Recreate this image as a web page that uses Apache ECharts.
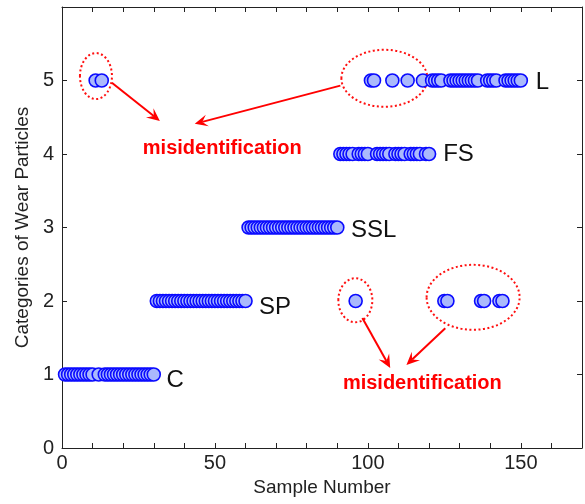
<!DOCTYPE html>
<html>
<head>
<meta charset="utf-8">
<script src="https://cdn.jsdelivr.net/npm/echarts@6/dist/echarts.min.js"></script>
<style>
  html, body { margin: 0; padding: 0; background: #fff; }
  #chart { width: 585px; height: 504px; }
</style>
</head>
<body>
<div id="chart"></div>
<script>
// predicted category for sample 1..150 (1=C, 2=SP, 3=SSL, 4=FS, 5=L)
const predicted = [
  1, 1, 1, 1, 1, 1, 1, 1, 1, 1, 5, 1, 5, 1, 1, 1, 1, 1, 1, 1, 1, 1, 1, 1, 1, 1, 1, 1, 1, 1,
  2, 2, 2, 2, 2, 2, 2, 2, 2, 2, 2, 2, 2, 2, 2, 2, 2, 2, 2, 2, 2, 2, 2, 2, 2, 2, 2, 2, 2, 2,
  3, 3, 3, 3, 3, 3, 3, 3, 3, 3, 3, 3, 3, 3, 3, 3, 3, 3, 3, 3, 3, 3, 3, 3, 3, 3, 3, 3, 3, 3,
  4, 4, 4, 4, 4, 2, 4, 4, 4, 4, 5, 5, 4, 4, 4, 4, 4, 5, 4, 4, 4, 4, 5, 4, 4, 4, 4, 5, 4, 4,
  5, 5, 5, 5, 2, 2, 5, 5, 5, 5, 5, 5, 5, 5, 5, 5, 2, 2, 5, 5, 5, 5, 2, 2, 5, 5, 5, 5, 5, 5
];

const xTickLabels = [0, 50, 100, 150];
const yTickLabels = [0, 1, 2, 3, 4, 5];

// class names, placed at [x, y] in data space
const classNames = ['C', 'SP', 'SSL', 'FS', 'L'];
const classLabelPos = [[34.2, 0.92], [64.4, 1.92], [94.5, 2.96], [124.6, 3.99], [154.9, 4.98]];

// misidentification marks (data space)
const ellipseCenters = [[11.1, 5.06], [105.4, 5.03], [95.9, 2.01], [134.4, 2.05]];
const ellipseRadii = [[16, 23], [43, 28.5], [17, 22], [46.5, 32.5]];
const arrowLines = [
  [[16.3, 4.97], [32.0, 4.45]],
  [[91.0, 4.93], [43.4, 4.41]],
  [[98.2, 1.77], [107.3, 1.09]],
  [[125.3, 1.63], [112.6, 1.13]]
];
const noteText = 'misidentification';
const notePos = [[52.4, 4.08], [117.8, 0.88]];

const FONT = '"Liberation Sans", Arial, sans-serif';

const points = predicted.map((c, i) => [i + 1, c]);

const chart = echarts.init(document.getElementById('chart'));

const axisCommon = {
  type: 'value',
  axisLine: { show: true, onZero: false, lineStyle: { color: '#222', width: 1 } },
  axisTick: { show: true, inside: true, length: 5, lineStyle: { color: '#222' } },
  splitLine: { show: false }
};

chart.setOption({
  backgroundColor: '#fff',
  animation: false,
  grid: { left: 62, right: 2, top: 7, bottom: 56 },
  xAxis: [
    Object.assign({}, axisCommon, {
      position: 'bottom', min: 0, max: 170, interval: 10,
      name: 'Sample Number', nameLocation: 'middle', nameGap: 30,
      nameTextStyle: { fontFamily: FONT, fontSize: 19, color: '#222' },
      axisLabel: {
        margin: 5, fontFamily: FONT, fontSize: 20, color: '#222',
        formatter: v => xTickLabels.includes(v) ? String(v) : ''
      }
    }),
    Object.assign({}, axisCommon, {
      position: 'top', min: 0, max: 170, interval: 10,
      axisLabel: { show: false }
    })
  ],
  yAxis: [
    Object.assign({}, axisCommon, {
      position: 'left', min: 0, max: 6, interval: 1,
      name: 'Categories of Wear Particles', nameLocation: 'middle', nameGap: 29,
      nameTextStyle: { fontFamily: FONT, fontSize: 19, color: '#222' },
      axisLabel: {
        margin: 8, fontFamily: FONT, fontSize: 20, color: '#222',
        formatter: v => yTickLabels.includes(v) ? String(v) : ''
      }
    }),
    Object.assign({}, axisCommon, {
      position: 'right', min: 0, max: 6, interval: 1,
      axisLabel: { show: false }
    })
  ],
  series: [{
    type: 'scatter',
    data: points,
    symbol: 'circle',
    symbolSize: 13,
    itemStyle: { color: '#aab9fc', borderColor: '#0a0aff', borderWidth: 1.6, opacity: 1 }
  }]
});

// annotations, placed through the grid's own scales
function px(p) {
  return chart.convertToPixel({ xAxisIndex: 0, yAxisIndex: 0 }, p);
}

const graphics = [];

classNames.forEach((name, i) => {
  const p = px(classLabelPos[i]);
  graphics.push({
    type: 'text', x: p[0], y: p[1],
    style: { text: name, fontFamily: FONT, fontSize: 24, fill: '#111', align: 'left', verticalAlign: 'middle' }
  });
});

ellipseCenters.forEach((c, i) => {
  const p = px(c);
  graphics.push({
    type: 'ellipse',
    shape: { cx: p[0], cy: p[1], rx: ellipseRadii[i][0], ry: ellipseRadii[i][1] },
    style: { fill: 'none', stroke: '#ff1010', lineWidth: 2, lineDash: [2, 2.5] }
  });
});

arrowLines.forEach(seg => {
  const a = px(seg[0]);
  const b = px(seg[1]);
  const dx = b[0] - a[0], dy = b[1] - a[1];
  const len = Math.sqrt(dx * dx + dy * dy);
  const ux = dx / len, uy = dy / len;
  const nx = -uy, ny = ux;
  const L = 13, W = 6;
  const back = [b[0] - ux * L, b[1] - uy * L];
  const notch = [b[0] - ux * L * 0.6, b[1] - uy * L * 0.6];
  graphics.push({
    type: 'line',
    shape: { x1: a[0], y1: a[1], x2: notch[0], y2: notch[1] },
    style: { stroke: '#ff0000', lineWidth: 2 }
  });
  graphics.push({
    type: 'polygon',
    shape: {
      points: [
        b,
        [back[0] + nx * W, back[1] + ny * W],
        notch,
        [back[0] - nx * W, back[1] - ny * W]
      ]
    },
    style: { fill: '#ff0000' }
  });
});

notePos.forEach(c => {
  const p = px(c);
  graphics.push({
    type: 'text', x: p[0], y: p[1],
    style: { text: noteText, fontFamily: FONT, fontSize: 20, fontWeight: 'bold', fill: '#ff0000', align: 'center', verticalAlign: 'middle' }
  });
});

chart.setOption({ graphic: graphics });
</script>
</body>
</html>
